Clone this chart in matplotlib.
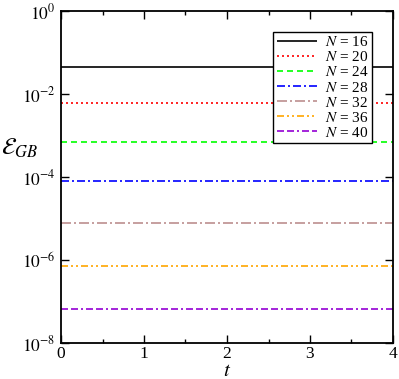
import math
import matplotlib
matplotlib.use("Agg")
import matplotlib.pyplot as plt
from matplotlib.ticker import FixedLocator, MultipleLocator, FuncFormatter

plt.rcParams['font.family'] = ['Liberation Serif', 'DejaVu Serif']
plt.rcParams['mathtext.fontset'] = 'stix'
plt.rcParams['lines.scale_dashes'] = False

t = [0.0, 4.0]
N_values = [16, 20, 24, 28, 32, 36, 40]
E_GB = [4.5e-2, 6.2e-3, 7.1e-4, 7.9e-5, 7.6e-6, 7.3e-7, 6.7e-8]

colors = ['black', 'red', '#00ff00', 'blue', '#bc8f8f', 'orange', '#9400d3']
px = 0.72
styles = [
    (0, ()),
    (0, (2 * px, 3 * px)),
    (0, (6 * px, 4 * px)),
    (0, (8 * px, 3 * px, 2 * px, 3 * px)),
    (0, (10 * px, 3 * px, 2 * px, 3 * px)),
    (0, (7 * px, 3 * px, 2 * px, 3 * px, 2 * px, 3 * px)),
    (0, (7 * px, 3 * px, 7 * px, 3 * px, 2 * px, 3 * px)),
]

fig = plt.figure(figsize=(3.99, 3.79), dpi=100)
ax = fig.add_axes([61 / 399, 1 - 343 / 379, 332 / 399, 332 / 379])

for n, e, c, ls in zip(N_values, E_GB, colors, styles):
    ax.plot(t, [e, e], color=c, linestyle=ls, linewidth=1.2,
            label=f'$N$ = {n}')

ax.set_yscale('log')
ax.set_ylim(1e-8, 1e0)
ax.set_xlim(0, 4)
ax.yaxis.set_major_locator(FixedLocator([1e-8, 1e-6, 1e-4, 1e-2, 1e0]))
ax.yaxis.set_minor_locator(FixedLocator([]))
ax.yaxis.set_major_formatter(FuncFormatter(
    lambda v, p: r'$10^{%d}$' % round(math.log10(v))))
ax.xaxis.set_major_locator(MultipleLocator(1))
ax.xaxis.set_minor_locator(MultipleLocator(0.5))

ax.tick_params(which='both', direction='in', top=True, right=True,
               labelsize=12.5, width=1.0)
ax.tick_params(which='major', length=6, pad=4)
ax.tick_params(axis='x', which='major', pad=2.5)
ax.tick_params(which='minor', length=3)
for s in ax.spines.values():
    s.set_linewidth(1.3)

ax.set_xlabel(r'$t$', fontsize=15, va='baseline')
ax.xaxis.set_label_coords(0.5, -0.1)
ax.set_ylabel(r'$\mathcal{E}_{GB}$', fontsize=17, rotation=0,
              ha='center', va='center')
ax.yaxis.set_label_coords(-0.125, 0.585)

leg = ax.legend(loc='upper right', bbox_to_anchor=(372 / 399, 1 - 32 / 379),
                bbox_transform=fig.transFigure, fontsize=11, frameon=True,
                fancybox=False, framealpha=1, edgecolor='black',
                labelspacing=0.07, handlelength=2.6, handletextpad=0.55,
                borderpad=0.22, borderaxespad=0)
leg.get_frame().set_linewidth(1.0)

fig.savefig('out.png', dpi=100)
